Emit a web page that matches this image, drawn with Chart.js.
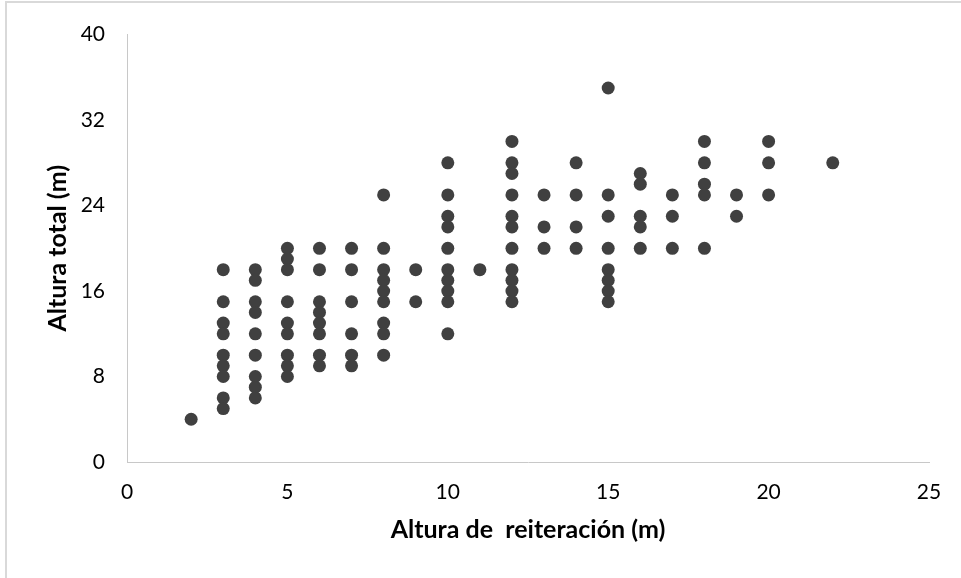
<!DOCTYPE html>
<html>
<head>
<meta charset="utf-8">
<script src="https://cdn.jsdelivr.net/npm/chart.js@4.4.1/dist/chart.umd.min.js"></script>
<style>
  html, body { margin: 0; padding: 0; background: #fff; overflow: hidden; }
  #wrap { position: relative; width: 961px; height: 578px; }
  #frame { position: absolute; left: 5px; top: 1px; width: 980px; height: 600px;
           border-left: 2px solid #d9d9d9; border-top: 2px solid #d9d9d9; box-sizing: border-box; pointer-events: none; }
  canvas { position: absolute; left: 0; top: 0; }
</style>
</head>
<body>
<div id="wrap">
  <canvas id="c" width="961" height="578"></canvas>
  <div id="frame"></div>
</div>
<script>
// Altura de reiteración (m)
const alturaReiteracion = [
  2,
  3,3,3,3,3,3,3,3,3,
  4,4,4,4,4,4,4,4,4,
  5,5,5,5,5,5,5,5,5,
  6,6,6,6,6,6,6,6,
  7,7,7,7,7,7,
  8,8,8,8,8,8,8,8,8,
  9,9,
  10,10,10,10,10,10,10,10,10,10,
  11,
  12,12,12,12,12,12,12,12,12,12,12,
  13,13,13,
  14,14,14,14,
  15,15,15,15,15,15,15,15,
  16,16,16,16,16,
  17,17,17,
  18,18,18,18,18,
  19,19,
  20,20,20,
  22
];
// Altura total (m)
const alturaTotal = [
  4,
  18,15,13,12,10,9,8,6,5,
  18,17,15,14,12,10,8,7,6,
  20,19,18,15,13,12,10,9,8,
  20,18,15,14,13,12,10,9,
  20,18,15,12,10,9,
  25,20,18,17,16,15,13,12,10,
  18,15,
  28,25,23,22,20,18,17,16,15,12,
  18,
  30,28,27,25,23,22,20,18,17,16,15,
  25,22,20,
  28,25,22,20,
  35,25,23,20,18,17,16,15,
  27,26,23,22,20,
  25,23,20,
  30,28,26,25,20,
  25,23,
  30,28,25,
  28
];
const xTitle = 'Altura de  reiteración (m)';
const yTitle = 'Altura total (m)';

const points = alturaReiteracion.map((x, i) => ({ x: x, y: alturaTotal[i] }));

const FONT = "Lato, 'Open Sans', 'DejaVu Sans', sans-serif";
const axisColor = '#c8c8c8';

new Chart(document.getElementById('c'), {
  type: 'scatter',
  data: {
    datasets: [{
      data: points,
      backgroundColor: '#404040',
      borderWidth: 0,
      pointRadius: 6.5,
      pointHoverRadius: 6.5
    }]
  },
  options: {
    responsive: false,
    animation: false,
    devicePixelRatio: 1,
    layout: { padding: { left: 0, top: 31, right: 32, bottom: 0 } },
    plugins: { legend: { display: false }, tooltip: { enabled: false } },
    scales: {
      x: {
        type: 'linear',
        min: 0, max: 25,
        afterFit: (s) => { s.height = 116; },
        grid: { display: false, drawTicks: false },
        border: { display: true, color: axisColor, width: 1 },
        ticks: { stepSize: 5, color: '#000', padding: 18, font: { family: FONT, size: 21 } },
        title: { display: true, text: xTitle, color: '#000',
                 font: { family: FONT, size: 25, weight: 'bold' }, padding: { top: 0, bottom: 33 } }
      },
      y: {
        type: 'linear',
        min: 0, max: 40,
        afterFit: (s) => { s.width = 127; },
        grid: { display: false, drawTicks: false },
        border: { display: true, color: axisColor, width: 1 },
        ticks: { stepSize: 8, color: '#000', padding: 22, font: { family: FONT, size: 21 } },
        title: { display: true, text: yTitle, color: '#000',
                 font: { family: FONT, size: 25, weight: 'bold' }, padding: { top: 43, bottom: 0 } }
      }
    }
  }
});
</script>
</body>
</html>
